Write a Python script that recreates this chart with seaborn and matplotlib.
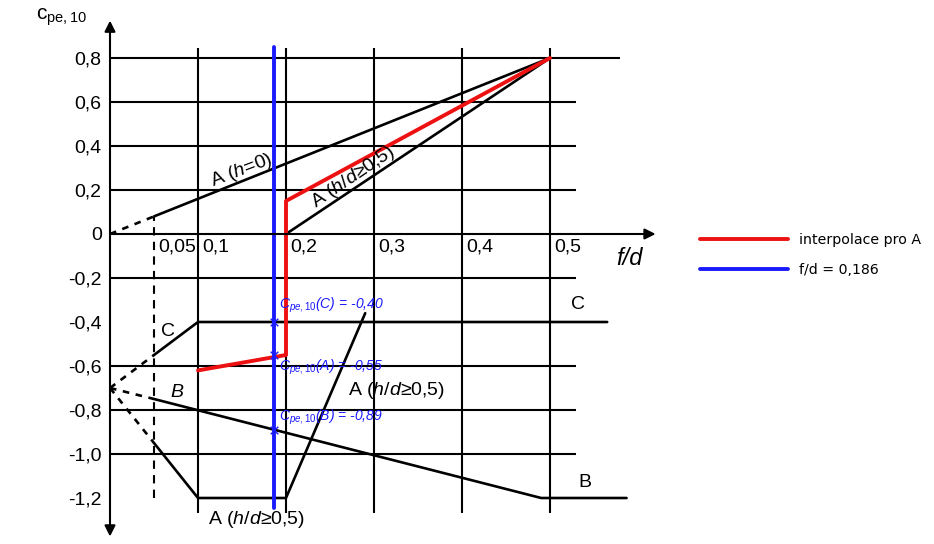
import numpy as np
import pandas as pd
import seaborn as sns
import matplotlib.pyplot as plt

# curve data (f/d on x, c_pe,10 on y)
a_h0_dash_x = [0.0, 0.05]
a_h0_dash_y = [0.0, 0.08]
a_h0_x = [0.05, 0.5]
a_h0_y = [0.08, 0.8]

a_hd_up_x = [0.2, 0.5]
a_hd_up_y = [0.0, 0.8]
a_hd_low_dash_x = [0.0, 0.05]
a_hd_low_dash_y = [-0.7, -0.95]
a_hd_low_x = [0.05, 0.1, 0.2, 0.29]
a_hd_low_y = [-0.95, -1.2, -1.2, -0.36]

c_dash_x = [0.0, 0.05]
c_dash_y = [-0.7, -0.55]
c_x = [0.05, 0.1, 0.565]
c_y = [-0.55, -0.4, -0.4]

b_dash_x = [0.0, 0.05]
b_dash_y = [-0.7, -0.75]
b_x = [0.05, 0.49, 0.587]
b_y = [-0.75, -1.2, -1.2]

interp_x = [0.1, 0.2, 0.2, 0.5]
interp_y = [-0.62, -0.55, 0.15, 0.8]

f_d = 0.186
blue_y = [-1.245, 0.85]
read_names = ['C', 'A', 'B']
read_vals = [-0.40, -0.55, -0.89]

y_ticks = [0.8, 0.6, 0.4, 0.2, 0.0, -0.2, -0.4, -0.6, -0.8, -1.0, -1.2]
x_ticks = [0.05, 0.1, 0.2, 0.3, 0.4, 0.5]
grid_x = [0.1, 0.2, 0.3, 0.4, 0.5]
grid_y = [0.6, 0.4, 0.2, -0.2, -0.6, -0.8, -1.0]

sns.set_theme(style='white')
plt.rcParams['font.family'] = ['Liberation Sans', 'DejaVu Sans']
plt.rcParams['mathtext.fontset'] = 'custom'
plt.rcParams['mathtext.rm'] = 'Liberation Sans'
plt.rcParams['mathtext.it'] = 'Liberation Sans:italic'
plt.rcParams['text.color'] = 'black'
plt.rcParams['ytick.color'] = 'black'
plt.rcParams['ytick.labelcolor'] = 'black'

fig = plt.figure(figsize=(9.34, 5.44), dpi=100)
ax = fig.add_axes([110 / 934, 6.4 / 544, 545.6 / 934, 519.2 / 544])
ax.set_xlim(0, 0.62)
ax.set_ylim(-1.38, 0.98)
for s in ax.spines.values():
    s.set_visible(False)

k = 'black'
# grid
ax.hlines(grid_y, 0, 0.53, color=k, lw=1.5)
ax.hlines([0.8], 0, 0.58, color=k, lw=1.5)
ax.vlines(grid_x, -1.27, 0.845, color=k, lw=1.5)
ax.vlines([0.05], -1.2, 0.08, color=k, lw=1.5, linestyles=(0, (4, 3)))

# axes with arrows
arrow = dict(arrowstyle='-|>', color=k, lw=1.5, mutation_scale=16, shrinkA=0, shrinkB=0)
ax.annotate('', xy=(0, 0.97), xytext=(0, 0), arrowprops=arrow, annotation_clip=False)
ax.annotate('', xy=(0, -1.375), xytext=(0, 0), arrowprops=arrow, annotation_clip=False)
ax.annotate('', xy=(0.62, 0), xytext=(0, 0), arrowprops=arrow, annotation_clip=False)


def curve(x, y, dashed=False, **kw):
    ls = (0, (2.5, 2.5)) if dashed else '-'
    sns.lineplot(x=x, y=y, sort=False, estimator=None, ax=ax, color=k,
                 lw=1.9, linestyle=ls, **kw)


curve(a_h0_dash_x, a_h0_dash_y, dashed=True)
curve(a_h0_x, a_h0_y)
curve(a_hd_up_x, a_hd_up_y)
curve(a_hd_low_dash_x, a_hd_low_dash_y, dashed=True)
curve(a_hd_low_x, a_hd_low_y)
curve(c_dash_x, c_dash_y, dashed=True)
curve(c_x, c_y)
curve(b_dash_x, b_dash_y, dashed=True)
curve(b_x, b_y)

sns.lineplot(x=interp_x, y=interp_y, sort=False, estimator=None, ax=ax,
             color='#ee1111', lw=2.8, label='interpolace pro A')
sns.lineplot(x=[f_d, f_d], y=blue_y, sort=False, estimator=None, ax=ax,
             color='#1a1aff', lw=2.8, label='f/d = 0,186')
ax.scatter([f_d] * len(read_vals), read_vals, marker='x', s=30,
           color='#1a1aff', linewidths=1, zorder=5)
offsets = {'C': (4, 12), 'A': (4, -9), 'B': (4, 9)}
for name, v in zip(read_names, read_vals):
    txt = r'$C_{pe,10}$(' + name + ') = ' + f'{v:.2f}'.replace('.', ',')
    ax.annotate(txt, (f_d, v), xytext=offsets[name], textcoords='offset points',
                color='#1a1aff', fontsize=10, style='italic', va='center', ha='left')

# ticks
ax.set_xticks([])
ax.set_yticks(y_ticks)
ax.set_yticklabels([('%.1f' % t).replace('.', ',').replace('-0,0', '0').replace('0,0', '0')
                    for t in y_ticks], fontsize=14)
ax.tick_params(axis='y', length=0, pad=6)
for t in x_ticks:
    ax.annotate(('%g' % t).replace('.', ','), (t, 0), xytext=(3, -9),
                textcoords='offset points', fontsize=14, ha='left', va='center')

ax.text(-0.055, 0.985, r'c$_{\mathrm{pe,10}}$', fontsize=15, ha='center', va='center')
ax.text(0.59, -0.11, 'f/d', fontsize=17, style='italic', ha='center', va='center')

# curve labels
ax.text(0.15, 0.29, 'A ($h$=0)', fontsize=14, rotation=21, ha='center', va='center')
ax.text(0.277, 0.26, 'A ($h/d$≥0,5)', fontsize=14, rotation=34, ha='center', va='center')
ax.text(0.066, -0.445, 'C', fontsize=14, ha='center', va='center')
ax.text(0.076, -0.72, 'B', fontsize=14, style='italic', ha='center', va='center')
ax.text(0.532, -0.32, 'C', fontsize=14, ha='center', va='center')
ax.text(0.54, -1.13, 'B', fontsize=14, ha='center', va='center')
ax.text(0.27, -0.71, 'A ($h/d$≥0,5)', fontsize=14, ha='left', va='center')
ax.text(0.166, -1.3, 'A ($h/d$≥0,5)', fontsize=14, ha='center', va='center')

ax.legend(loc='upper left', bbox_to_anchor=(700 / 934, 1 - 233 / 544),
          bbox_transform=fig.transFigure, frameon=False,
          handlelength=6.2, handletextpad=0.8, labelspacing=1.1,
          borderpad=0, borderaxespad=0, prop={'family': 'DejaVu Sans', 'size': 10.2})

fig.savefig('out.png', dpi=100)
